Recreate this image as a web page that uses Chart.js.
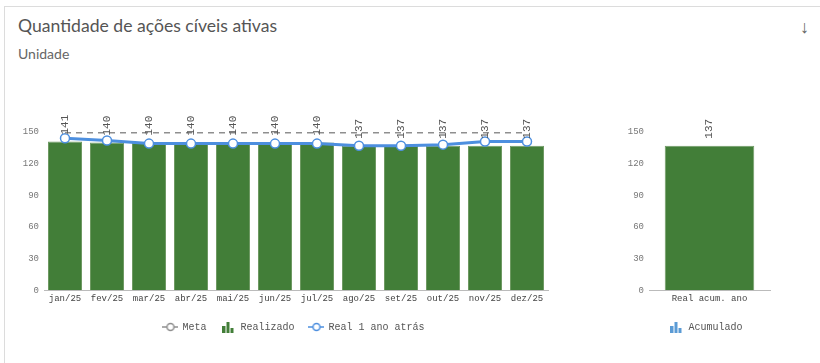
<!DOCTYPE html>
<html>
<head>
<meta charset="utf-8">
<script src="https://cdn.jsdelivr.net/npm/chart.js@4.4.1/dist/chart.umd.min.js"></script>
<style>
  html, body { margin: 0; padding: 0; background: #fff; }
  body { width: 820px; height: 363px; position: relative; overflow: hidden; font-family: Lato, "Open Sans", sans-serif; }
  .card { position: absolute; left: 4px; top: 6px; width: 830px; height: 370px; border: 1px solid #dcdcdc; box-sizing: border-box; }
  .title { position: absolute; left: 18px; top: 15px; font-size: 17.6px; color: #555; }
  .sub { position: absolute; left: 18px; top: 45px; font-size: 14px; color: #666; }
  .arrow { position: absolute; left: 800px; top: 14px; font-size: 18px; color: #666; font-family: "Noto Sans", sans-serif; }
  #mainWrap { position: absolute; left: 0; top: 100px; width: 588px; height: 242px; }
  #accWrap { position: absolute; left: 606px; top: 100px; width: 200px; height: 242px; }
</style>
</head>
<body>
<div class="card"></div>
<div class="title">Quantidade de ações cíveis ativas</div>
<div class="sub">Unidade</div>
<div class="arrow">&#8595;</div>
<div id="mainWrap"><canvas id="main"></canvas></div>
<div id="accWrap"><canvas id="acc"></canvas></div>
<script>
// dados
const meses = ['jan/25','fev/25','mar/25','abr/25','mai/25','jun/25','jul/25','ago/25','set/25','out/25','nov/25','dez/25'];
const meta = [150,150,150,150,150,150,150,150,150,150,150,150];
const realizado = [141,140,140,140,140,140,140,137,137,137,137,137];
const realAnoAnterior = [144,142,139,139,139,139,139,137,137,138,141,141];
const acumLabels = ['Real acum. ano'];
const acumulado = [137];
const yTicks = [0,30,60,90,120,150];

const VERDE = '#427e38';
const AZUL = '#4d8fdf';
const CINZA = '#8f8f8f';
const MONO = '"Liberation Mono", "DejaVu Sans Mono", monospace';

// icones da legenda
function lineIcon(color) {
  const c = document.createElement('canvas');
  c.width = 16; c.height = 10;
  const ctx = c.getContext('2d');
  ctx.strokeStyle = color; ctx.lineWidth = 1.5;
  ctx.beginPath(); ctx.moveTo(0, 5); ctx.lineTo(16, 5); ctx.stroke();
  ctx.fillStyle = '#fff';
  ctx.beginPath(); ctx.arc(8, 5, 3.5, 0, Math.PI * 2); ctx.fill(); ctx.stroke();
  return c;
}
function barIcon(color) {
  const c = document.createElement('canvas');
  c.width = 12; c.height = 12;
  const ctx = c.getContext('2d');
  ctx.fillStyle = color;
  ctx.fillRect(0, 5, 3, 7);
  ctx.fillRect(4, 1, 3, 11);
  ctx.fillRect(8, 7, 3, 5);
  return c;
}

// rótulos verticais acima das barras
const barLabels = {
  id: 'barLabels',
  afterDatasetsDraw(chart) {
    const ctx = chart.ctx;
    chart.data.datasets.forEach((ds, i) => {
      if (ds.type === 'line') return;
      const m = chart.getDatasetMeta(i);
      m.data.forEach((el, j) => {
        ctx.save();
        ctx.translate(el.x, el.y - 7);
        ctx.rotate(-Math.PI / 2);
        ctx.font = '11px ' + MONO;
        ctx.fillStyle = '#555';
        ctx.textAlign = 'left';
        ctx.textBaseline = 'middle';
        ctx.fillText(String(ds.data[j]), 0, 0);
        ctx.restore();
      });
    });
  }
};

function yScale(w) {
  return {
    min: 0, max: 150,
    afterBuildTicks: s => { s.ticks = yTicks.map(v => ({ value: v })); },
    afterFit: s => { s.width = w; },
    grid: { display: false, drawTicks: false },
    border: { display: false },
    ticks: { color: '#777', font: { family: MONO, size: 9 }, padding: 5 }
  };
}
// eixo vazio à direita, só para reservar espaço
function spacer(w) {
  return {
    position: 'right', display: true,
    afterFit: s => { s.width = w; },
    grid: { display: false, drawTicks: false },
    border: { display: false },
    ticks: { display: false }
  };
}
function xScale() {
  return {
    grid: { display: false, drawTicks: false },
    border: { display: true, color: '#bbb', width: 1 },
    ticks: { color: '#444', font: { family: MONO, size: 9 }, padding: 3, maxRotation: 0, autoSkip: false }
  };
}
function legendOpts(icons) {
  return {
    position: 'bottom',
    labels: {
      usePointStyle: true,
      pointStyleWidth: 14,
      color: '#555',
      font: { family: MONO, size: 10 },
      padding: 15,
      sort: (a, b) => a.datasetIndex - b.datasetIndex,
      generateLabels: chart => {
        const items = Chart.defaults.plugins.legend.labels.generateLabels(chart);
        items.forEach(it => { it.pointStyle = icons[it.datasetIndex]; });
        return items;
      }
    }
  };
}

new Chart(document.getElementById('main'), {
  data: {
    labels: meses,
    datasets: [
      { type: 'line', label: 'Meta', data: meta, borderColor: CINZA, borderWidth: 3, borderDash: [6, 5],
        pointRadius: 0, fill: false, order: 1 },
      { type: 'bar', label: 'Realizado', data: realizado, backgroundColor: VERDE, borderColor: '#6f9a64', borderWidth: 1,
        barPercentage: 0.81, categoryPercentage: 1, order: 3 },
      { type: 'line', label: 'Real 1 ano atrás', data: realAnoAnterior, borderColor: AZUL, borderWidth: 3,
        pointRadius: 4.5, pointBorderWidth: 1.5, pointBackgroundColor: '#fff', pointBorderColor: AZUL, fill: false, order: 2 }
    ]
  },
  options: {
    responsive: true,
    maintainAspectRatio: false,
    animation: false,
    layout: { padding: { top: 32 } },
    scales: { x: xScale(), y: yScale(44), y2: spacer(40) },
    plugins: {
      legend: legendOpts([lineIcon(CINZA), barIcon(VERDE), lineIcon(AZUL)]),
      tooltip: { enabled: false }
    }
  },
  plugins: [barLabels]
});

new Chart(document.getElementById('acc'), {
  type: 'bar',
  data: {
    labels: acumLabels,
    datasets: [
      { label: 'Acumulado', data: acumulado, backgroundColor: VERDE, borderColor: '#6f9a64', borderWidth: 1,
        barPercentage: 0.74, categoryPercentage: 1 }
    ]
  },
  options: {
    responsive: true,
    maintainAspectRatio: false,
    animation: false,
    layout: { padding: { top: 32 } },
    scales: { x: xScale(), y: yScale(43), y2: spacer(36) },
    plugins: {
      legend: legendOpts([barIcon('#5b9bd5')]),
      tooltip: { enabled: false }
    }
  },
  plugins: [barLabels]
});
</script>
</body>
</html>
